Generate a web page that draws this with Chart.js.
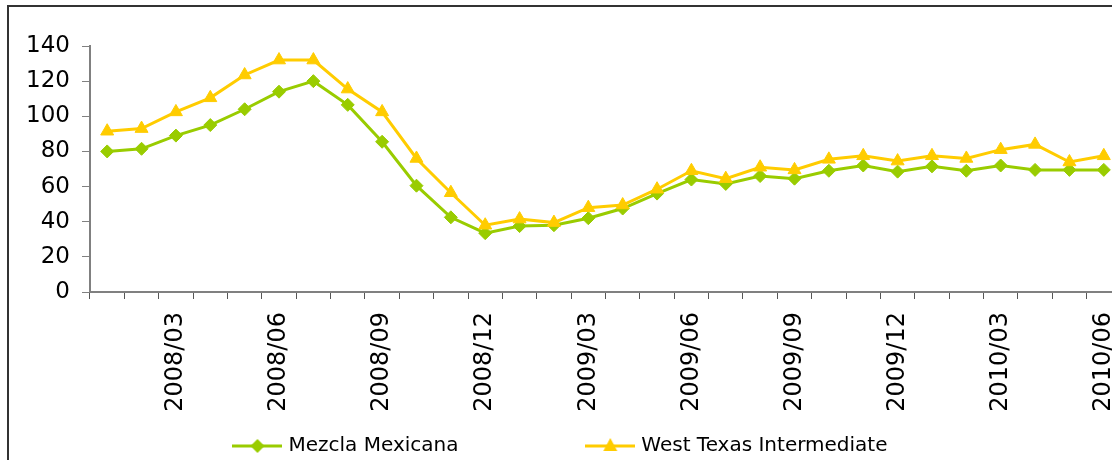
<!DOCTYPE html>
<html>
<head>
<meta charset="utf-8">
<script src="https://cdn.jsdelivr.net/npm/chart.js@4.4.1/dist/chart.umd.min.js"></script>
<style>
  html, body { margin: 0; padding: 0; background: #fff; overflow: hidden; width: 1112px; height: 460px; }
  #wrap { position: absolute; left: 0; top: 0; width: 1146px; height: 466px; }
  #frame { position: absolute; left: 7px; top: 5px; width: 1200px; height: 600px;
           border-left: 2px solid #333; border-top: 2px solid #333; pointer-events: none; }
</style>
</head>
<body>
<div id="wrap"><canvas id="c" width="1146" height="466"></canvas></div>
<div id="frame"></div>
<script>
// Monthly categories, Jan 2008 – Jun 2010
const months = [
  '2008/01','2008/02','2008/03','2008/04','2008/05','2008/06',
  '2008/07','2008/08','2008/09','2008/10','2008/11','2008/12',
  '2009/01','2009/02','2009/03','2009/04','2009/05','2009/06',
  '2009/07','2009/08','2009/09','2009/10','2009/11','2009/12',
  '2010/01','2010/02','2010/03','2010/04','2010/05','2010/06'
];

// Crude prices (USD per barrel)
const mezclaMexicana = [
  80, 81.5, 89, 95, 104, 114,
  120, 106.5, 85.5, 60.5, 42.5, 33.5,
  37.5, 38, 42, 47.5, 56, 64,
  61.5, 66, 64.5, 69, 72, 68.5,
  71.5, 69, 72, 69.5, 69.5, 69.5
];
const westTexas = [
  91.5, 93, 102.5, 110.5, 123.5, 132,
  132, 115.5, 102.5, 76, 56.5, 38,
  41.5, 39.5, 48, 49.5, 58.5, 69,
  64.5, 71, 69.5, 75.5, 77.5, 74.5,
  77.5, 76, 81, 84, 74, 77.5
];

// Value axis range
const yMin = 0, yMax = 140, yStep = 20;
// Every third month carries a label
const labelEvery = 3;

const GREEN = '#99CC00';
const YELLOW = '#FFCC00';
const FONT = 'DejaVu Sans, Verdana, sans-serif';

// Legend symbol: short line segment with the series marker in the middle
function legendSymbol(color, shape) {
  const c = document.createElement('canvas');
  c.width = 50; c.height = 20;
  const g = c.getContext('2d');
  g.strokeStyle = color; g.fillStyle = color; g.lineWidth = 3;
  g.beginPath(); g.moveTo(0, 10); g.lineTo(50, 10); g.stroke();
  g.beginPath();
  if (shape === 'diamond') {
    g.moveTo(25, 3); g.lineTo(32, 10); g.lineTo(25, 17); g.lineTo(18, 10);
  } else {
    g.moveTo(25, 2); g.lineTo(32, 15); g.lineTo(18, 15);
  }
  g.closePath(); g.fill();
  return c;
}
const symMezcla = legendSymbol(GREEN, 'diamond');
const symWTI = legendSymbol(YELLOW, 'triangle');

new Chart(document.getElementById('c'), {
  type: 'line',
  data: {
    labels: months,
    datasets: [
      {
        label: 'Mezcla Mexicana',
        data: mezclaMexicana,
        borderColor: GREEN, backgroundColor: GREEN,
        borderWidth: 3, tension: 0,
        pointStyle: 'rectRot', pointRadius: 6.5, pointBorderWidth: 1,
        order: 1
      },
      {
        label: 'West Texas Intermediate',
        data: westTexas,
        borderColor: YELLOW, backgroundColor: YELLOW,
        borderWidth: 3, tension: 0,
        pointStyle: 'triangle', pointRadius: 7.5, pointBorderWidth: 1,
        order: 0
      }
    ]
  },
  options: {
    responsive: false,
    animation: false,
    events: [],
    layout: { padding: { left: 2, top: 46, right: 24, bottom: 0 } },
    scales: {
      x: {
        offset: true,
        grid: { offset: true, drawOnChartArea: false, drawTicks: true, tickLength: 7, color: '#555', lineWidth: 1 },
        border: { display: true, color: '#808080', width: 2 },
        ticks: {
          autoSkip: false, maxRotation: 90, minRotation: 90, padding: 13,
          color: '#000', font: { family: FONT, size: 24 },
          callback: function (v, i) { return i % labelEvery === labelEvery - 1 ? this.getLabelForValue(v) : ''; }
        },
        afterFit: s => { s.height = 134; }
      },
      y: {
        min: yMin, max: yMax,
        grid: { drawOnChartArea: false, drawTicks: true, tickLength: 8, color: '#808080' },
        border: { display: true, color: '#808080', width: 2 },
        ticks: { stepSize: yStep, padding: 12, color: '#000', font: { family: FONT, size: 23 } },
        afterFit: s => { s.width = 88; }
      }
    },
    plugins: {
      tooltip: { enabled: false },
      legend: {
        position: 'bottom',
        labels: {
          usePointStyle: true, pointStyleWidth: 42, padding: 10,
          color: '#000', font: { family: FONT, size: 20 },
          generateLabels: chart => {
            const ds = chart.data.datasets;
            return [
              { text: ds[0].label + ' '.repeat(19), pointStyle: symMezcla, fillStyle: GREEN, strokeStyle: GREEN, lineWidth: 0, hidden: false, datasetIndex: 0 },
              { text: ds[1].label, pointStyle: symWTI, fillStyle: YELLOW, strokeStyle: YELLOW, lineWidth: 0, hidden: false, datasetIndex: 1 }
            ];
          }
        }
      }
    }
  }
});
</script>
</body>
</html>
